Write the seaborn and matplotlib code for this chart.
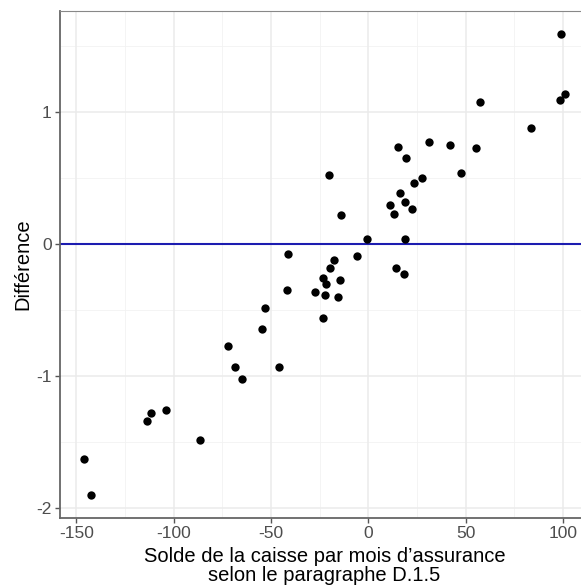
import numpy as np
import pandas as pd
import matplotlib.pyplot as plt
import seaborn as sns

# values
solde = [99.0, 101.1, 98.7, 57.4, 83.8, 31.0, 41.8, 15.1, 55.5, 19.4,
         -20.4, 47.6, 27.8, 23.5, 16.3, 11.2, 18.9, 22.6, 13.2, -14.0,
         -0.5, 18.9, -41.3, -5.7, -17.6, -19.5, 14.2, 18.5, -23.3, -21.7,
         -14.5, -41.9, -27.5, -22.2, -15.7, -23.1, -53.1, -54.5, -72.3, -68.7,
         -45.9, -64.9, -104.1, -111.8, -113.9, -86.5, -146.2, -142.3]
difference = [1.592, 1.137, 1.090, 1.072, 0.875, 0.771, 0.748, 0.736, 0.726, 0.650,
              0.523, 0.534, 0.500, 0.458, 0.384, 0.291, 0.316, 0.263, 0.225, 0.220,
              0.033, 0.036, -0.080, -0.093, -0.124, -0.187, -0.182, -0.232, -0.258, -0.306,
              -0.278, -0.354, -0.364, -0.386, -0.404, -0.566, -0.485, -0.644, -0.776, -0.932,
              -0.932, -1.028, -1.258, -1.286, -1.347, -1.486, -1.632, -1.905]
x_ticks = [-150, -100, -50, 0, 50, 100]
y_ticks = [-2, -1, 0, 1]

df = pd.DataFrame({"solde": solde, "difference": difference})

sns.set_theme(style="white")
plt.rcParams['font.family'] = ['Liberation Sans', 'DejaVu Sans']

fig = plt.figure(figsize=(5.81, 5.87), dpi=100)
ax = fig.add_axes([0.1033, 0.118, 0.9105, 0.8632])

# grid like theme_bw
for v in [-125, -75, -25, 25, 75]:
    ax.axvline(v, color="#F2F2F2", lw=0.6, zorder=0)
for v in [-1.5, -0.5, 0.5, 1.5]:
    ax.axhline(v, color="#F2F2F2", lw=0.6, zorder=0)
for v in x_ticks:
    ax.axvline(v, color="#EBEBEB", lw=1.1, zorder=0)
for v in y_ticks:
    ax.axhline(v, color="#EBEBEB", lw=1.1, zorder=0)

ax.axhline(0, color="#1c1cb0", lw=1.5, zorder=1)
sns.scatterplot(x="solde", y="difference", data=df, color="black", s=36,
                linewidth=0, ax=ax, zorder=2)

ax.set_xlim(-158.4, 113.4)
ax.set_ylim(-2.077, 1.764)
ax.set_xticks(x_ticks)
ax.set_yticks(y_ticks)
ax.set_xticklabels([str(t) for t in x_ticks])
ax.set_yticklabels([str(t) for t in y_ticks])
ax.tick_params(axis="both", direction="out", length=3.5, width=1.0, color="#555555",
               labelsize=12.5, labelcolor="#4D4D4D", pad=2.5, left=True, bottom=True)

for side in ["top", "right"]:
    ax.spines[side].set_color("#888888")
    ax.spines[side].set_linewidth(0.8)
for side in ["left", "bottom"]:
    ax.spines[side].set_color("#666666")
    ax.spines[side].set_linewidth(1.3)

ax.set_xlabel("Solde de la caisse par mois d\u2019assurance\nselon le paragraphe D.1.5",
              fontsize=14.5, color="black", labelpad=4, linespacing=1.05)
ax.set_ylabel("Différence", fontsize=14.5, color="black", labelpad=3)

plt.savefig("out.png", dpi=100)
